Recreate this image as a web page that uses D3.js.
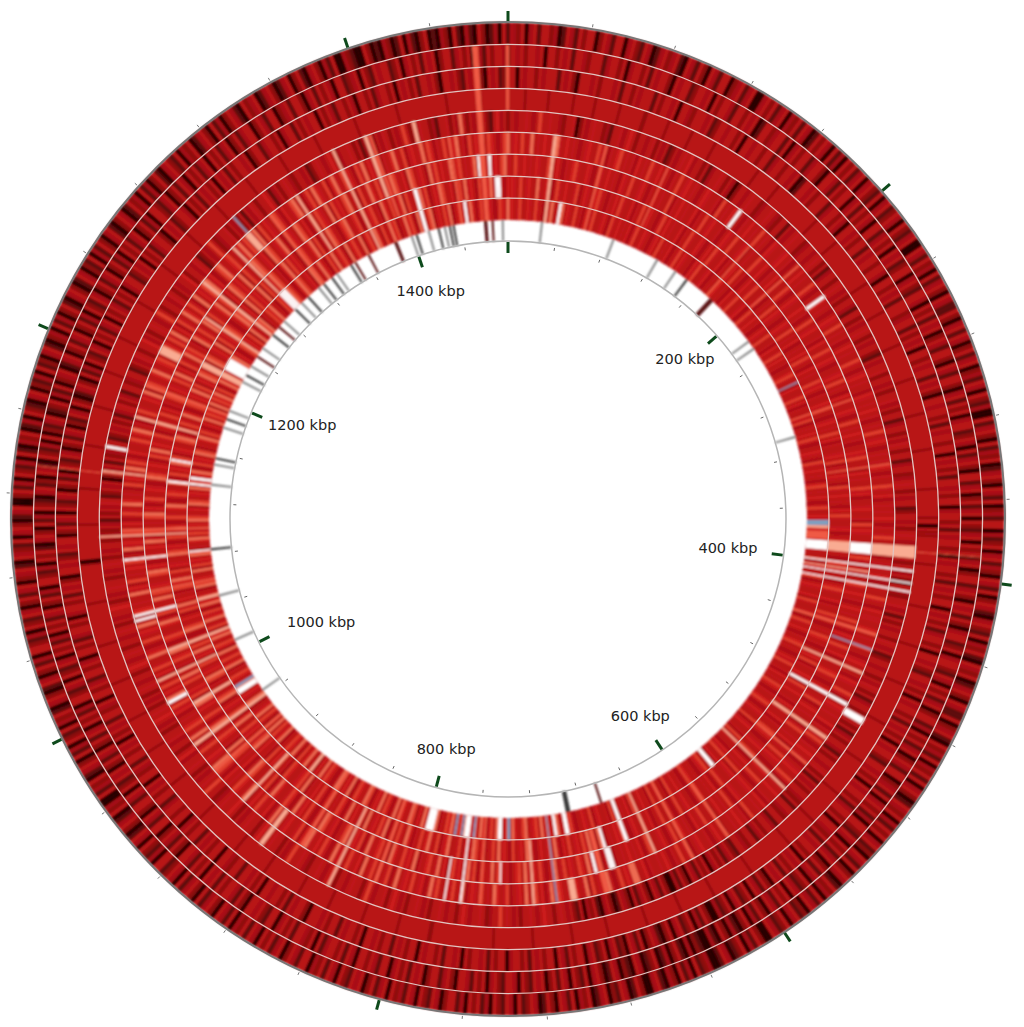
<!DOCTYPE html>
<html>
<head>
<meta charset="utf-8">
<script src="https://cdn.jsdelivr.net/npm/d3@7"></script>
<style>
  html, body { margin: 0; background: #fff; }
  svg { display: block; }
</style>
</head>
<body>
<div id="plot"></div>
<script>
const genomeKbp = 1477;
const binKbp = 2;
const majorTicks = [0, 200, 400, 600, 800, 1000, 1200, 1400];
const tickLabels = ["200 kbp", "400 kbp", "600 kbp", "800 kbp", "1000 kbp", "1200 kbp", "1400 kbp"];
const labelKbp = [197, 401, 600, 800, 988, 1208, 1400];
const labelRadius = [238, 222, 238, 239, 214, 226, 240];

// gene track next to the scale circle, positions in kbp
const geneGray = [26,84,122,139,219,226,303,964,1009,1046,1134,1150,1180,1194,1219,1233,1250,1277,1297,1315,1333,1399,1413,1426,1472];
const geneDark = [150,689,690,691,1083,1155,1187,1225,1263,1290,1304,1320,1328,1346,1403,1421,1430,1433];
const geneMaroon = [174,175,176,663,1242,1271,1350,1362,1385,1386,1458,1459,1464];

// ring values from outside (1) to inside (9), one number per 2 kbp, 100 kbp per line
// 0 black ... 4 plain red ... 9 white
const ring1 = [
4,3,2,4,0,3,4,1,4,4,2,3,0,1,4,3,1,4,2,4,4,0,2,4,3,1,4,4,0,3,4,2,1,4,3,0,1,3,4,2,3,4,1,0,4,3,1,4,2,0,
4,3,1,4,4,0,2,3,4,1,3,4,0,0,3,4,2,4,1,3,4,0,3,2,4,1,4,3,0,1,4,2,4,3,0,4,1,3,0,4,2,4,1,3,4,0,3,4,2,1,
4,0,3,4,1,2,4,3,0,4,2,1,3,4,0,0,4,3,1,4,2,3,0,4,1,3,4,2,0,4,3,1,1,4,2,0,3,4,1,4,3,0,2,4,1,3,4,0,2,3,
1,4,3,0,4,2,1,3,0,0,4,1,3,4,2,0,4,1,3,2,4,0,1,3,4,2,0,4,3,1,4,0,2,3,1,4,4,0,3,1,2,4,0,3,4,1,3,2,0,4,
3,1,4,0,2,4,3,1,0,3,4,2,1,4,0,3,2,4,1,0,4,3,2,4,0,1,3,4,2,0,4,3,1,1,4,0,2,3,4,1,0,4,2,3,1,4,0,3,2,4,
1,4,0,3,4,2,0,1,4,3,2,4,0,3,1,4,2,4,0,3,4,1,2,0,4,3,1,4,0,2,4,3,0,1,4,2,3,0,4,1,3,4,0,2,1,4,3,0,4,2,
1,3,4,0,0,2,4,1,3,0,4,2,1,0,3,4,1,0,0,3,2,1,4,0,3,1,4,0,2,3,0,1,4,3,0,0,2,4,1,0,3,4,1,2,0,4,3,1,0,4,
2,3,0,4,1,3,4,0,2,4,1,0,3,4,2,1,4,0,3,4,1,2,4,0,3,1,4,2,4,0,3,1,4,4,2,0,3,4,1,2,4,0,3,4,1,3,2,4,0,4,
3,1,4,2,0,4,3,4,1,2,4,0,3,4,1,4,2,3,0,4,4,1,3,4,2,0,4,3,1,4,2,4,0,3,4,1,4,2,3,0,4,1,3,4,0,2,4,3,1,4,
0,2,4,3,1,4,0,3,4,2,1,4,4,0,3,1,2,4,0,3,4,1,0,2,4,3,1,0,4,2,3,0,0,4,1,3,2,4,0,1,3,4,2,0,4,1,3,0,4,2,
1,4,0,3,2,4,1,0,3,4,2,0,1,4,3,0,2,4,1,3,0,4,4,2,1,3,0,4,2,1,4,3,0,2,4,1,3,4,0,2,3,4,1,0,4,3,2,1,4,0,
3,4,2,0,1,3,4,0,0,2,4,1,3,0,4,2,1,3,0,4,1,0,3,2,4,0,1,3,0,4,2,1,0,3,4,0,2,1,3,0,4,1,2,0,3,4,1,0,2,3,
0,4,1,3,0,2,4,1,0,3,4,2,0,1,4,3,0,2,1,4,0,3,1,4,2,0,3,4,1,0,2,4,3,0,1,4,2,3,0,4,1,3,0,2,4,1,0,3,4,2,
1,4,0,3,2,4,0,1,3,4,2,0,4,1,3,0,2,4,3,1,0,4,2,3,4,0,1,3,4,2,0,1,3,4,0,2,4,1,0,3,4,2,0,3,1,4,0,0,3,2,
1,0,0,4,2,0,1,0,3,2,0,1,4,0,3,1,0,2,4,0,1,0,3,2,0,4,1,0,3,1,0,4,2,0,1,3,0,4,1];

const ring2 = [
4,4,3,4,2,4,4,3,4,0,4,4,2,4,3,4,1,4,4,3,2,4,4,4,1,3,4,4,2,4,0,3,4,4,2,4,1,4,3,4,4,2,0,4,3,4,4,1,2,4,
4,3,4,0,4,2,4,4,3,1,4,4,2,4,3,4,0,1,4,4,2,3,4,4,1,4,0,3,4,2,4,4,1,3,4,4,2,0,4,4,3,1,4,2,4,4,0,3,4,1,
4,2,4,3,0,4,4,1,3,4,2,4,0,4,3,4,1,2,4,4,0,3,4,2,1,4,4,3,0,4,2,4,1,4,3,4,0,2,4,3,1,4,4,2,0,4,3,1,4,4,
2,0,3,4,1,4,2,4,0,3,4,4,1,2,4,3,0,4,1,3,4,2,0,4,4,1,3,4,0,2,4,1,3,4,0,4,2,1,3,4,0,4,2,4,1,3,4,0,2,4,
4,1,3,4,2,0,4,3,4,1,4,2,0,3,4,4,1,2,4,0,3,4,4,2,1,4,3,0,4,2,4,1,3,4,0,2,4,4,1,3,0,4,2,4,1,3,4,0,2,4,
3,1,4,4,0,2,3,4,1,4,0,3,4,2,4,1,3,0,4,4,2,1,4,3,0,4,2,4,1,3,4,0,2,4,1,4,3,0,4,2,1,3,4,0,4,2,4,1,3,4,
0,2,4,1,3,0,4,2,0,1,3,0,2,4,0,1,3,0,0,1,2,0,3,0,1,4,2,0,3,1,0,4,2,1,0,3,4,0,1,2,0,3,4,1,0,2,4,3,0,4,
1,2,4,0,3,4,1,4,2,0,4,3,4,1,2,4,0,3,4,4,1,2,4,3,0,4,2,4,1,3,4,4,0,2,4,3,1,4,4,2,0,4,3,4,1,4,2,4,3,0,
4,4,1,3,4,2,4,4,0,3,4,1,4,2,4,4,3,1,4,0,4,2,3,4,4,1,4,2,4,3,0,4,4,1,2,4,3,4,4,0,2,4,1,3,4,4,2,4,1,4,
3,4,0,4,2,4,1,3,4,4,0,2,4,1,3,4,2,0,4,4,1,3,4,0,2,4,4,1,3,4,0,4,2,1,4,3,4,0,2,4,1,3,4,0,2,4,1,4,3,0,
4,2,4,1,3,0,4,4,2,1,3,4,0,4,2,1,4,3,0,4,2,4,1,3,0,4,2,4,1,3,4,0,2,4,1,3,0,4,4,2,1,3,0,4,2,4,1,0,3,4,
2,0,4,1,3,0,4,2,1,0,3,4,1,2,0,4,3,1,0,4,2,1,3,0,4,0,2,1,3,4,0,1,2,4,0,3,1,4,0,2,3,4,0,1,3,4,0,2,4,1,
3,4,0,2,4,1,3,0,4,2,1,4,3,0,2,4,1,3,4,0,2,4,1,3,0,4,2,4,1,3,4,0,2,4,1,3,0,4,4,2,1,3,4,0,2,4,1,4,3,0,
4,2,4,1,3,4,0,4,2,4,1,3,4,0,2,4,1,3,4,4,0,2,4,3,1,4,4,0,2,3,4,1,4,4,2,0,3,4,1,4,2,4,3,0,4,4,1,2,3,4,
0,4,2,1,4,3,4,4,1,2,4,0,3,4,2,4,1,4,3,4,0,2,4,4,1,3,4,2,4,0,4,3,1,4,2,4,4,3,0];

const ring3 = [
4,4,0,4,3,4,4,2,4,3,4,4,4,1,4,3,4,2,0,4,4,4,3,4,2,4,4,4,3,4,1,4,4,2,4,3,4,4,4,1,4,2,4,4,3,4,0,4,4,3,
2,4,4,4,3,4,1,2,4,4,3,4,4,2,4,0,4,4,3,4,4,2,4,4,1,3,4,4,2,4,4,3,4,0,1,4,4,3,4,2,4,4,4,1,3,4,4,2,4,3,
0,4,4,3,4,2,4,4,1,4,3,4,4,2,4,4,3,0,4,4,2,4,3,4,1,4,4,4,2,3,4,4,1,4,2,4,3,4,0,4,4,2,4,3,4,4,1,4,3,4,
2,0,4,4,3,4,4,2,4,1,4,3,4,4,2,4,4,0,4,3,4,2,4,1,4,4,3,4,2,4,4,0,3,4,4,2,4,1,4,3,4,4,2,4,0,4,3,4,4,2,
4,1,4,3,4,2,4,4,0,4,3,4,2,4,1,3,4,4,2,4,0,4,4,3,4,2,1,4,4,3,4,2,4,0,4,3,4,4,2,4,1,4,3,4,2,4,0,4,3,4,
4,2,1,4,4,3,4,2,4,0,4,3,4,4,2,4,1,3,4,4,2,4,0,4,4,3,2,4,1,4,3,4,4,2,4,0,4,3,4,2,4,1,4,3,4,0,2,4,1,3,
4,0,4,2,1,4,3,0,4,2,1,3,0,0,2,4,1,3,0,4,2,1,4,3,0,4,2,0,1,3,4,2,0,4,1,3,4,0,2,1,4,3,0,4,2,1,4,3,0,4,
4,2,4,1,3,4,0,4,4,2,4,3,4,1,4,2,4,4,3,0,4,4,2,4,1,4,3,4,4,2,4,0,4,3,4,4,1,4,2,4,4,3,4,0,4,4,2,4,3,4,
1,4,4,2,4,3,4,4,0,4,2,4,4,3,4,1,4,4,2,4,3,4,4,4,0,2,4,4,3,4,1,4,2,4,4,3,4,4,0,4,2,4,3,4,4,1,4,4,2,3,
4,4,0,4,4,2,4,3,4,1,4,4,2,4,3,0,4,4,2,4,4,3,1,4,4,2,4,3,4,0,4,4,2,3,4,1,4,4,2,4,3,4,0,4,2,4,3,4,1,4,
4,2,3,4,0,4,4,2,4,3,1,4,4,2,4,3,0,4,4,2,4,1,3,4,4,2,4,0,3,4,4,2,4,1,4,3,4,2,0,4,4,3,4,2,1,4,3,4,4,0,
2,4,1,3,4,0,4,2,1,3,4,0,2,4,1,3,0,4,2,1,4,3,0,2,4,1,3,4,0,2,1,4,3,0,4,2,0,1,3,4,2,0,4,1,3,0,4,2,1,4,
3,0,4,2,4,1,3,4,0,4,2,4,3,1,4,2,4,0,3,4,4,1,2,4,3,4,0,4,2,4,1,3,4,4,2,0,4,3,4,1,2,4,4,3,0,4,2,4,1,4,
3,4,2,4,0,4,3,4,1,4,2,4,4,3,4,0,2,4,4,1,3,4,4,2,4,0,3,4,4,1,4,2,4,3,4,4,0,4,2,4,3,1,4,4,2,4,3,0,4,4,
2,4,1,3,4,4,2,4,0,4,3,4,2,4,1,4,4,3,4,2,0,4,4,3,4,2,1,4,3,4,4,2,0,4,3,4,1,2,4];

// ring 4 is nearly plain: only a few stripes, positions in kbp
const ring4Black = [372,373,1083,1084];
const ring4Maroon = [9,22,36,48,62,76,77,90,104,118,146,160,188,204,232,250,270,290,310,330,352,368,376,378,394,418,440,462,486,510,532,552,570,596,620,640,660,682,702,724,746,781,782,800,820,840,858,880,900,926,950,972,992,1014,1036,1060,1082,1104,1124,1148,1170,1190,1210,1232,1256,1278,1300,1322,1344,1366,1390,1414,1442,1461];

const ring5 = [
4,4,3,4,4,5,4,3,4,7,4,4,5,4,4,3,2,4,4,5,0,2,4,3,4,5,4,4,2,3,1,4,4,5,3,4,6,4,2,4,4,3,4,5,2,4,3,4,1,2,
4,3,4,5,4,6,3,4,4,2,4,1,3,4,4,5,4,2,4,3,0,2,4,4,3,4,5,4,4,2,3,4,4,5,4,3,2,4,4,1,4,3,4,5,4,4,2,3,4,4,
3,4,5,4,2,4,1,3,4,4,2,4,5,4,3,4,2,4,4,3,1,4,4,2,4,3,4,5,4,2,4,3,4,4,2,1,4,3,4,4,5,2,4,4,3,4,2,4,4,5,
3,4,2,4,4,1,3,4,4,2,4,3,5,4,2,4,4,1,3,4,4,2,3,4,5,4,2,4,3,4,4,1,2,4,4,3,4,2,4,5,4,3,4,4,1,3,4,2,4,4,
3,4,2,1,4,4,3,2,4,4,5,3,4,1,4,2,4,3,4,4,2,5,4,3,4,1,2,4,4,3,4,4,2,4,3,5,4,2,4,1,3,4,4,2,4,3,4,4,2,4,
1,3,4,2,4,4,3,1,4,2,4,4,3,4,5,2,4,1,4,3,4,2,4,4,3,2,4,1,4,4,3,2,4,4,1,3,4,4,2,4,3,1,4,4,2,3,4,4,1,2,
4,3,1,4,2,4,3,0,4,2,4,1,3,4,0,2,4,1,3,0,0,2,4,1,3,4,0,2,4,3,1,4,0,2,3,4,1,0,2,4,3,0,1,4,2,3,0,4,1,2,
4,3,4,5,4,2,4,4,6,4,3,4,5,4,4,2,4,3,4,5,4,7,4,4,3,2,4,5,4,4,3,4,6,4,2,4,4,3,4,5,4,4,2,4,3,4,5,4,4,2,
4,3,4,6,4,2,5,4,4,3,4,7,4,2,4,4,5,4,3,4,4,2,4,6,4,3,4,5,4,4,2,3,4,5,4,4,7,4,3,4,2,4,4,5,4,3,4,6,4,2,
4,4,5,4,3,4,2,4,6,4,4,5,4,3,2,4,4,7,4,5,4,3,4,2,4,5,4,4,3,6,4,2,4,4,3,5,4,4,2,4,3,4,6,4,5,4,2,4,3,4,
2,4,5,4,3,4,4,2,4,6,4,3,4,5,4,2,4,4,3,4,5,4,2,4,3,4,4,6,4,2,4,3,4,5,4,4,2,4,3,4,5,4,2,4,3,4,4,2,4,3,
2,4,3,1,4,2,4,3,5,4,1,2,4,3,4,0,2,4,3,4,1,4,2,3,5,4,4,1,2,4,3,4,2,4,1,3,4,5,2,4,3,1,4,4,2,3,4,4,1,2,
4,3,5,4,2,4,4,6,3,4,2,4,5,4,3,4,7,4,2,4,4,3,5,4,2,4,3,4,4,6,2,4,4,3,5,4,1,2,4,3,4,7,4,2,3,4,4,5,2,4,
3,4,2,4,1,4,3,5,4,2,4,4,6,4,1,3,4,2,4,5,4,3,2,4,4,3,4,1,2,4,5,4,3,4,6,4,2,3,4,4,5,4,2,4,1,3,4,4,2,4,
3,5,4,2,4,3,4,7,4,2,4,3,5,4,4,2,3,1,4,4,5,2,4,3,8,4,2,4,3,4,5,4,2,1,4,6,3,4,2];

const ring6 = [
4,5,6,4,7,4,5,8,4,5,4,6,4,5,7,8,5,4,6,4,5,4,3,4,5,6,4,4,7,5,4,3,5,4,6,7,4,5,4,5,3,6,4,5,4,7,5,4,6,4,
5,4,3,5,4,7,4,5,6,4,5,4,3,4,6,5,4,4,5,3,7,4,5,4,6,5,4,4,3,5,4,6,4,5,4,7,4,5,4,3,6,5,4,4,5,6,4,5,3,4,
5,4,6,4,5,4,4,7,5,3,4,5,4,6,4,5,4,3,4,6,5,4,7,4,5,4,5,3,4,6,4,5,4,4,7,5,4,3,5,6,4,5,4,4,3,6,5,4,5,4,
6,4,5,3,4,5,4,7,4,5,6,4,3,4,5,4,5,4,6,4,3,5,4,4,7,5,4,6,3,4,5,4,5,4,6,4,3,5,4,5,7,4,4,5,6,4,3,4,5,4,
5,4,6,4,3,4,5,4,4,7,5,4,3,6,4,5,5,4,4,6,3,4,5,4,5,7,4,4,3,5,6,4,5,4,4,3,6,5,4,4,7,5,3,4,4,6,5,4,5,4,
4,6,3,5,4,4,5,7,4,3,5,4,6,4,5,4,3,4,5,6,4,4,7,5,3,4,5,4,6,4,4,5,3,6,4,5,4,4,7,3,5,4,6,4,5,4,4,3,5,4,
6,4,3,5,4,4,6,5,4,3,4,5,4,7,4,5,3,4,6,4,5,4,4,5,3,6,4,4,8,8,5,6,4,7,4,3,5,8,4,6,5,4,7,3,8,5,4,6,7,4,
5,4,6,7,4,8,5,3,6,4,7,5,4,8,4,6,5,4,3,7,5,4,6,8,4,5,4,7,4,5,6,4,3,8,5,4,7,5,6,4,4,7,5,8,4,3,6,5,4,7,
4,6,5,4,8,4,3,7,5,4,6,4,7,5,4,8,3,6,4,5,7,4,4,6,5,8,4,3,5,7,4,6,4,5,8,4,6,3,7,5,4,4,6,5,4,7,4,8,5,3,
6,4,5,7,4,6,4,3,8,5,4,6,7,4,5,4,6,3,5,7,4,8,4,5,6,4,4,7,5,3,6,4,8,5,4,7,6,4,5,4,3,6,5,7,4,4,8,5,6,4,
7,4,5,3,6,4,7,5,4,4,8,6,5,3,4,7,4,5,6,4,8,4,5,3,7,6,4,5,4,4,8,5,6,3,7,4,5,4,6,4,7,5,4,3,8,5,6,4,4,7,
5,4,6,3,4,7,5,4,8,6,4,5,4,3,7,4,6,5,4,8,4,7,5,3,6,4,4,5,7,4,6,8,4,5,3,6,4,7,5,4,4,6,5,8,3,4,7,5,4,6,
8,5,4,6,7,4,5,3,8,6,4,7,5,8,4,6,3,7,5,4,8,6,4,7,5,3,8,4,6,5,7,4,8,5,6,3,4,7,8,5,4,6,7,4,5,3,6,8,5,7,
4,6,5,8,3,7,4,6,5,4,8,7,5,3,6,4,5,7,8,4,6,3,5,7,4,8,6,5,4,7,3,6,8,5,4,7,5,6,4,3,7,5,8,4,6,5,4,7,3,5,
4,6,8,5,4,7,3,5,6,4,5,8,4,7,6,3,5,4,7,4,5,6,8,4,5,3,7,4,6,5,8,4,7,6,4,3,5,7,8];

const ring7 = [
5,4,7,5,4,6,4,5,4,6,5,4,4,7,5,4,6,4,3,5,4,6,7,5,4,4,6,5,3,4,7,5,4,6,4,5,4,3,6,5,4,7,4,4,5,6,4,3,5,4,
6,4,5,4,4,7,3,5,4,6,4,5,4,4,6,3,5,4,7,4,5,6,4,4,5,3,4,6,5,4,7,4,4,5,6,3,4,5,4,4,7,5,4,6,4,3,5,4,6,4,
5,4,4,7,5,3,4,6,5,4,4,6,4,5,3,4,7,4,5,6,4,4,5,3,6,4,4,7,5,4,6,5,3,4,4,5,6,4,7,4,5,4,3,6,4,5,4,4,6,5,
3,4,7,4,5,4,6,4,5,3,4,4,6,5,7,4,4,5,3,6,4,5,4,4,7,5,6,3,4,4,5,6,4,4,5,3,7,4,6,5,4,4,5,4,3,6,4,7,5,4,
4,6,5,3,4,4,7,5,4,6,4,5,3,4,6,4,5,4,7,4,4,5,3,6,5,4,4,7,5,4,6,3,4,5,4,4,6,7,5,4,3,4,6,5,4,4,5,7,3,4,
6,4,5,4,4,6,3,5,7,4,4,5,4,6,3,4,5,4,7,4,6,5,4,3,4,5,6,4,4,7,5,3,4,6,5,4,4,5,6,3,4,7,4,5,4,6,4,3,5,4,
4,7,5,4,6,3,4,5,4,6,4,4,7,5,3,4,6,5,4,4,5,7,4,3,6,4,5,4,6,4,5,4,4,3,9,9,5,3,7,4,9,5,8,4,6,7,4,5,6,4,
7,5,4,8,6,4,3,5,7,4,6,4,5,8,4,7,6,4,3,5,4,6,7,4,8,5,4,6,4,3,7,5,8,4,4,6,5,7,4,3,6,4,8,5,4,7,6,4,5,3,
8,4,6,5,7,4,4,6,8,3,5,4,7,6,4,5,8,4,3,7,5,6,4,4,8,7,5,4,3,6,5,4,7,8,4,6,5,3,4,7,4,6,5,8,4,3,6,7,5,4,
4,6,8,5,3,7,4,6,5,4,4,7,8,5,3,6,4,5,4,7,6,4,8,3,5,4,6,7,5,4,4,8,6,3,5,7,4,4,6,5,8,4,3,7,5,6,4,4,7,5,
8,4,6,3,5,4,7,6,4,8,5,4,3,6,7,5,4,4,6,8,5,3,7,4,6,4,5,8,4,7,3,6,5,4,4,7,8,5,6,3,4,7,5,4,6,4,8,5,3,7,
6,4,5,4,7,8,4,6,3,5,7,4,4,6,5,3,4,8,7,5,4,6,4,3,7,5,8,4,6,4,5,7,3,4,6,8,5,4,7,4,6,3,5,4,7,8,4,6,5,4,
7,5,8,4,6,3,7,5,4,8,6,7,4,5,3,8,6,4,7,5,4,8,6,3,7,5,4,6,8,4,7,5,3,6,4,8,7,5,6,4,8,3,7,5,4,6,8,7,4,5,
6,3,8,7,4,5,6,8,4,3,7,6,5,4,8,7,4,6,3,5,8,4,7,6,5,4,8,3,7,5,6,4,7,8,4,5,6,3,7,4,5,8,6,4,7,5,3,4,6,8,
7,5,4,6,3,8,7,4,5,6,4,3,8,5,7,4,6,4,5,8,3,6,7,4,5,4,6,8,3,7,5,4,9,5,6,4,7,8,4];

const ring8 = [
4,6,5,4,7,4,5,6,4,4,8,5,4,6,5,3,4,7,5,4,6,4,4,5,7,3,4,6,5,4,4,6,7,5,4,3,5,4,6,4,7,5,4,4,6,3,5,4,7,4,
5,6,4,4,3,5,7,4,6,4,5,4,4,6,3,5,4,7,5,4,4,6,5,3,4,6,4,7,5,4,4,6,3,5,4,5,6,4,7,4,5,3,4,6,4,5,7,4,4,5,
6,3,4,5,4,7,4,6,5,4,3,4,6,5,4,7,4,5,4,6,3,4,5,4,6,4,7,5,4,3,6,4,5,4,4,7,5,6,4,3,5,4,4,6,5,7,4,4,3,5,
6,4,5,4,7,4,6,3,5,4,4,5,6,4,7,3,5,4,4,6,5,4,3,7,5,4,6,4,5,4,3,6,4,7,5,4,4,5,6,3,4,5,7,4,4,6,5,4,3,4,
7,5,6,4,4,5,3,4,6,7,5,4,4,6,3,5,4,4,7,5,6,4,3,4,5,4,7,6,4,5,3,4,4,5,6,4,7,3,5,4,4,6,5,4,3,7,5,4,6,4,
4,5,3,6,4,7,5,4,4,6,3,5,4,4,7,5,6,4,3,4,5,6,4,4,7,5,3,4,6,4,5,4,7,3,6,5,4,4,5,7,4,3,6,4,5,4,4,6,7,5,
3,4,4,6,5,4,7,4,3,5,6,4,4,7,5,4,3,6,4,5,7,4,4,6,5,3,4,4,7,5,6,4,5,4,3,9,8,3,6,4,8,5,7,4,6,5,4,7,4,6,
3,5,8,4,7,5,4,6,4,3,5,7,8,4,6,5,4,7,3,4,6,5,8,4,7,5,4,3,6,4,7,8,5,4,6,3,7,5,4,4,8,6,5,3,7,4,5,8,6,4,
7,4,5,3,6,8,4,5,7,4,6,4,3,8,5,7,4,6,5,4,8,3,7,5,4,6,4,8,5,3,6,7,4,5,4,8,6,3,5,7,4,6,4,5,3,8,4,7,6,5,
4,4,6,7,3,5,4,8,5,6,4,7,3,5,4,6,4,8,7,5,3,4,6,5,7,4,4,8,6,3,5,7,4,5,6,4,3,8,7,5,4,6,4,5,3,7,8,4,6,5,
4,7,4,3,6,5,8,4,7,4,6,5,3,4,8,7,5,4,6,4,3,7,5,8,4,6,4,5,3,7,4,6,8,5,4,7,3,6,5,4,4,8,7,5,6,3,4,7,4,5,
8,6,3,4,7,5,4,6,8,4,3,5,7,6,4,4,8,5,3,7,4,6,5,8,4,7,3,5,6,4,4,7,8,5,3,6,4,7,5,4,8,6,3,4,7,5,4,6,5,8,
4,7,3,6,5,8,7,4,6,5,3,8,7,4,5,6,4,8,3,7,5,6,4,8,7,5,3,4,6,8,7,5,4,6,3,8,4,7,5,6,4,8,3,7,5,4,6,8,7,4,
5,3,6,8,4,7,5,6,4,3,8,7,5,4,6,8,4,7,3,5,6,4,8,7,5,4,3,6,7,8,5,4,6,7,3,4,8,5,6,7,4,5,3,8,6,4,7,5,4,6,
8,3,7,5,4,6,4,8,5,7,3,4,6,5,8,7,4,4,6,3,5,7,4,8,5,6,4,3,7,5,4,6,8,4,9,9,5,3,6];

const ring9 = [
5,6,4,5,7,4,4,6,5,4,7,5,4,3,6,5,8,4,5,9,8,4,6,5,4,7,4,5,3,6,4,5,7,4,4,5,6,4,3,7,5,4,6,4,5,4,6,3,5,7,
4,4,6,5,4,3,5,6,4,7,4,5,4,6,3,4,5,7,4,6,5,4,4,3,6,5,7,4,4,5,6,3,4,5,4,7,6,4,5,4,3,6,4,5,7,4,4,5,6,3,
4,7,5,4,6,4,5,3,4,6,5,4,7,4,4,5,3,6,4,5,7,4,6,4,5,3,4,4,6,7,5,4,5,3,6,4,4,5,7,4,6,3,5,4,4,6,5,7,3,4,
5,4,6,4,7,5,3,4,4,6,5,4,3,7,5,4,6,4,5,4,3,6,7,4,5,4,6,4,3,5,7,4,4,6,5,3,4,5,6,4,7,4,5,3,4,6,5,4,4,7,
3,5,6,4,4,5,7,3,4,6,5,4,4,6,3,7,5,4,4,5,6,3,4,7,5,4,6,4,3,5,4,6,7,4,5,4,3,4,6,5,7,4,4,5,3,6,4,5,4,7,
6,4,3,5,4,4,6,7,5,3,4,6,5,4,4,7,3,5,6,4,4,5,3,7,4,6,5,4,4,3,6,5,7,4,4,6,3,5,4,4,7,6,5,3,4,5,4,6,7,4,
3,5,4,6,4,5,7,3,4,4,6,5,4,7,3,5,4,6,4,4,5,7,3,6,4,5,4,6,4,7,3,5,4,4,6,5,3,7,4,5,6,4,4,3,5,7,6,4,5,4,
8,9,4,6,7,5,8,4,7,6,5,4,8,7,5,4,6,8,3,7,5,4,6,8,4,7,5,3,6,8,4,7,5,6,4,8,3,7,5,4,8,6,7,4,5,3,8,6,4,7,
5,8,4,6,3,7,8,5,4,6,7,4,8,5,3,6,7,4,8,5,6,4,3,7,8,5,4,6,7,4,3,8,5,6,4,7,8,5,3,4,6,7,5,8,4,6,3,7,5,4,
8,6,4,7,3,5,8,4,6,7,5,4,3,8,6,5,7,4,8,4,6,3,5,7,4,8,6,5,4,3,7,8,4,5,6,4,7,3,8,5,4,6,7,4,5,3,8,6,4,7,
5,4,8,3,6,7,4,5,8,6,4,3,7,5,4,8,6,5,7,3,4,8,6,4,7,5,4,3,8,7,5,6,4,4,8,3,7,5,6,4,8,7,3,5,4,6,8,4,7,5,
3,6,4,8,7,5,4,6,3,8,7,4,5,6,4,8,3,7,5,4,6,8,4,3,7,5,6,4,8,7,3,5,4,6,8,4,7,5,3,6,4,8,5,7,6,4,3,8,5,7,
6,8,4,7,3,5,8,6,4,7,5,8,3,6,4,7,8,5,6,3,4,7,8,5,6,4,7,3,8,5,4,6,7,8,3,5,4,7,6,8,5,4,3,7,6,9,9,9,8,7,
5,3,6,8,7,4,5,6,3,8,7,4,5,8,6,4,3,7,5,8,4,6,7,5,3,8,4,6,7,5,4,8,3,6,7,5,4,8,6,3,7,4,5,8,6,7,3,4,5,8,
6,7,4,3,8,5,6,4,7,8,3,5,6,4,7,5,8,3,4,6,7,5,9,4,8,6,3,5,7,4,8,6,5,3,4,7,6,5,8];

// streaks seen across neighbouring rings: [kbp, width, inner ring, outer ring, level]
const streaks = [
  [28,2,9,6,"pale"],[1459,3,9,2,"salmon"],[1476,1.5,4,2,"salmon"],[1457,1.5,7,7,9],[1411,2.5,9,8,9],[1421,2,5,5,"pale"],
  [151,2,6,6,9],[224,2,6,6,9],[265,1,9,9,"blue"],
  [370,4,9,9,"blue"],[374,2,9,9,"pale"],[378,6,9,9,"salmon"],[385,7,9,9,9],[385,7,8,8,"pale"],[385,7,7,7,9],[385,7,6,5,"pale"],[388,0.5,4,2,"salmon"],
  [399,1,9,5,9],[406,1,9,5,9],[411,1,9,5,9],[403,1,9,7,"pale"],[450,1,7,6,"blue"],
  [486,2,8,6,9],[489,4,5,5,9],[510,2,8,6,"pale"],[574,3,9,9,9],[654,2.5,9,8,9],[693,3,9,9,9],[708,1,9,6,"blue"],
  [696,4,6,6,"pale"],[743,3,9,9,9],[737,2,9,9,"blue"],[763,1.5,9,9,"blue"],[767,4,9,9,9],[772,1.5,9,9,"blue"],[777,1.5,9,9,"blue"],[794,6,9,9,9],
  [767,1.2,8,6,9],[777,1,7,6,9],[743,1,7,7,9],[894,2,9,9,"pale"],[890,2.5,6,5,"pale"],
  [977,2,9,9,"blue"],[972,4,9,9,9],[990,2,6,6,9],[982,2,8,7,"pale"],[1044,1.5,6,6,9],[1047,1.5,7,6,9],[1047,2,9,9,"pale"],
  [1082,1.2,7,6,9],[1083,1.2,9,9,9],[1097,1,8,5,"pale"],[1133,1.5,9,8,9],[1135,1.2,6,5,"pale"],[1134,0.5,5,2,"salmon"],[1148,1.5,8,8,9],[1149,1.5,5,5,9],[1137,2,9,9,9],
  [1212,5,6,6,"pale"],[1222,9,9,9,9],[1216,4,9,8,"pale"],[1301,4,6,6,"pale"],[1303,1,5,5,"blue"],[1340,1.5,8,6,"pale"],
  [1372,1.5,9,5,"pale"],[1395,1.5,8,5,"salmon"],[1320,2,9,6,"salmon"],[1290,1.5,8,6,"pale"],[1262,2,9,6,"pale"],[1245,1.5,9,7,"pale"],[1190,2,9,6,"salmon"],[1170,1.5,8,6,"pale"],
  [1100,1.5,9,6,"salmon"],[1060,1.5,9,7,"salmon"],[1020,2,9,7,"pale"],[1005,1.5,8,6,"pale"],[960,2,9,6,"pale"],[940,2,9,6,"salmon"],[915,1.5,8,6,"pale"],[870,2,9,6,"salmon"],
  [845,1.5,8,5,"pale"],[820,2,9,6,"salmon"],[755,1.5,9,6,"salmon"],[722,1.5,8,6,"pale"],[676,3,8,6,"salmon"],[640,1.5,9,7,"pale"],[620,2,9,6,"salmon"],[595,2,8,6,"salmon"],
  [550,1.5,9,6,"pale"],[530,1.5,8,6,"salmon"],[465,1.5,8,6,"pale"],[440,2,9,6,"salmon"],[335,1,8,6,"salmon"],[290,1,9,7,"salmon"],[200,1.2,8,6,"salmon"],[170,1,9,7,"salmon"],
  [100,1,8,6,"salmon"],[60,1.5,9,6,"salmon"],[1440,1.5,9,6,"salmon"],[1392,2,7,5,"pale"]
];

const rings = [ring1, ring2, ring3, null, ring5, ring6, ring7, ring8, ring9];

const width = 1024, height = 1027;
const cx = 508, cy = 519;
const scaleR = 278, geneOuterR = 299, outerR = 496.5;

const angle = d3.scaleLinear().domain([0, genomeKbp]).range([0, 2 * Math.PI]);
const ringEdge = d3.scaleLinear().domain([0, 9]).range([outerR, geneOuterR]);

const levelColor = d3.scaleOrdinal()
  .domain([0, 1, 2, 3, 4, 5, 6, 7, 8, 9, "salmon", "pale", "blue", "gray", "dark", "genemaroon"])
  .range(["#240202", "#5a0708", "#8c0b0e", "#a60f13", "#b81216", "#c0151a", "#cf1f1e", "#e2412f", "#f07055", "#ffffff", "#ef5a44", "#f9ab92", "#7f9fc0", "#8a8a8a", "#3a3a3a", "#5c1418"]);

const svg = d3.select("div#plot")
  .append("svg")
    .attr("width", width)
    .attr("height", height);

// the reference is a slightly soft raster
svg.append("defs").append("filter")
    .attr("id", "soft")
  .append("feGaussianBlur")
    .attr("stdDeviation", 0.9);

const g = svg.append("g")
    .attr("transform", `translate(${cx}, ${cy})`)
    .attr("filter", "url(#soft)");

// separators and ticks stay a bit sharper than the stripes
const top_ = svg.append("g")
    .attr("transform", `translate(${cx}, ${cy})`);

const arc = d3.arc();

function stripe(kbp, w, r0, r1, color) {
  g.append("path")
    .attr("d", arc({
      innerRadius: r0,
      outerRadius: r1,
      startAngle: angle(kbp),
      endAngle: angle(kbp + w)
    }))
    .attr("fill", color);
}

// plain red under every ring
g.append("circle")
  .attr("r", (outerR + geneOuterR) / 2)
  .attr("fill", "none")
  .attr("stroke", levelColor(4))
  .attr("stroke-width", outerR - geneOuterR);

// bins per ring
rings.forEach(function(ring, i) {
  if (!ring) return;
  ring.forEach(function(v, b) {
    if (v !== 4) stripe(b * binKbp, binKbp, ringEdge(i + 1), ringEdge(i), levelColor(v));
  });
});

ring4Maroon.forEach(k => stripe(k, 1.2, ringEdge(4), ringEdge(3), levelColor(2)));
ring4Black.forEach(k => stripe(k, 1.1, ringEdge(4), ringEdge(3), levelColor(0)));

// streaks over several rings
streaks.forEach(function(d) {
  stripe(d[0], d[1], ringEdge(d[2]), ringEdge(d[3] - 1), levelColor(d[4]));
});

// gene track
geneGray.forEach(k => stripe(k, 1.7, scaleR, geneOuterR, levelColor("gray")));
geneDark.forEach(k => stripe(k, 1.7, scaleR, geneOuterR, levelColor("dark")));
geneMaroon.forEach(k => stripe(k, 1.7, scaleR, geneOuterR, levelColor("genemaroon")));

// ring separators
d3.range(1, 9).forEach(function(i) {
  top_.append("circle")
    .attr("r", ringEdge(i))
    .attr("fill", "none")
    .attr("stroke", "#e2c4c0")
    .attr("stroke-width", 1.3);
});

// outline and scale circle
top_.append("circle").attr("r", outerR + 0.5).attr("fill", "none").attr("stroke", "#777").attr("stroke-width", 2);
top_.append("circle").attr("r", scaleR).attr("fill", "none").attr("stroke", "#b5b5b5").attr("stroke-width", 1.5);

function tick(kbp, r0, r1, color, w) {
  const a = angle(kbp) - Math.PI / 2;
  top_.append("line")
    .attr("x1", r0 * Math.cos(a)).attr("y1", r0 * Math.sin(a))
    .attr("x2", r1 * Math.cos(a)).attr("y2", r1 * Math.sin(a))
    .attr("stroke", color)
    .attr("stroke-width", w);
}

// small ticks every 40 kbp, on both circles
d3.range(0, genomeKbp - 20, 40).forEach(function(k) {
  tick(k, 272, 275, "#666", 1);
  tick(k, 499, 502, "#777", 1);
});

// big green ticks
majorTicks.forEach(function(k) {
  tick(k, 266, 277, "#0e4a1c", 3);
  tick(k, 498, 508, "#0e4a1c", 3);
});

tickLabels.forEach(function(label, i) {
  const a = angle(labelKbp[i]) - Math.PI / 2;
  svg.append("text")
    .attr("x", cx + labelRadius[i] * Math.cos(a))
    .attr("y", cy + labelRadius[i] * Math.sin(a))
    .attr("text-anchor", "middle")
    .attr("dominant-baseline", "middle")
    .style("font-family", "DejaVu Sans")
    .style("font-size", "14.5px")
    .style("fill", "#222")
    .text(label);
});
</script>
</body>
</html>
